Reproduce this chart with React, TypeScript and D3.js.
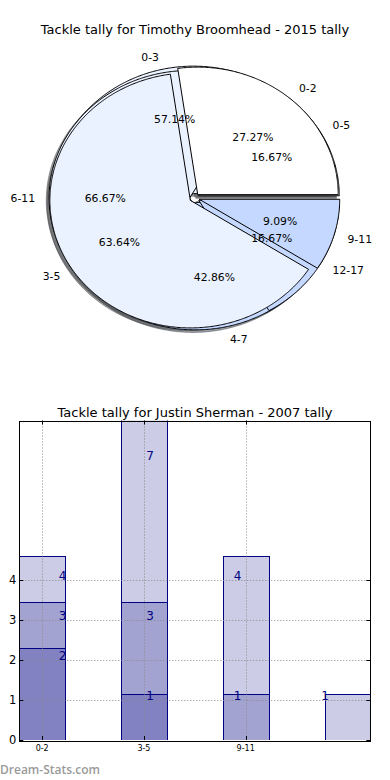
import React from 'react';
import * as d3 from 'd3';

// ---------- Pie data ----------
const pieTitle = 'Tackle tally for Timothy Broomhead - 2015 tally';
const pieALabels = ['0-2', '3-5', '9-11'];
const pieAValues = [3, 7, 1];
const pieBLabels = ['0-3', '4-7'];
const pieBValues = [4, 3];
const pieCLabels = ['0-5', '6-11', '12-17'];
const pieCValues = [1, 4, 1];
const pieAColors = ['#ffffff', '#ebf2ff', '#c5d8ff'];
const pieBColors = ['#ebf2ff', '#c5d8ff'];
const pieCColors = ['#ffffff', '#ebf2ff', '#c5d8ff'];

// ---------- Bar data ----------
const barTitle = 'Tackle tally for Justin Sherman - 2007 tally';
const barCategories = ['0-2', '3-5', '9-11', ''];
const barSeriesA = [4, 7, 4, 1];
const barSeriesB = [3, 3, 1, null];
const barSeriesC = [2, 1, null, null];
const yTickValues = [0, 1, 2, 3, 4];
const xTickLabels = ['0-2', '3-5', '9-11'];

// ---------- layout constants ----------
const W = 390;
const H = 780;
const FONT = 'DejaVu Sans, sans-serif';

const PIE_CX = 194.5;
const PIE_CY = 198;
const PIE_RX = 140.5;
const PIE_RY = 127.5;
const EXPLODE = 0.035;
const SHADOW_OFF = -0.02;

const BAR_LEFT = 19.3;
const BAR_RIGHT = 370.3;
const BAR_TOP = 420.5;
const BAR_BOTTOM = 740;
const BAR_WIDTH = 0.45;
const BAR_HEIGHT_FACTOR = 1.15;
const LABEL_X0 = 0.2;
const LABEL_X_STEP = 0.86;

const px = d3.scaleLinear().domain([-1, 1]).range([PIE_CX - PIE_RX, PIE_CX + PIE_RX]);
const py = d3.scaleLinear().domain([-1, 1]).range([PIE_CY + PIE_RY, PIE_CY - PIE_RY]);

const snap = (v: number) => Math.round(v) + 0.5;

function wedgePath(ox: number, oy: number, a0: number, a1: number) {
  const n = Math.max(2, Math.ceil((a1 - a0) / (Math.PI / 360)));
  const pts: [number, number][] = [[px(ox), py(oy)]];
  for (let k = 0; k <= n; k++) {
    const t = a0 + ((a1 - a0) * k) / n;
    pts.push([px(ox + Math.cos(t)), py(oy + Math.sin(t))]);
  }
  return (d3.line()(pts) as string) + 'Z';
}

function shadowColor(c: string) {
  const r = d3.rgb(c);
  return `rgba(${Math.round(r.r * 0.3)},${Math.round(r.g * 0.3)},${Math.round(r.b * 0.3)},0.5)`;
}

type PieSpec = { labels: string[]; values: number[]; colors: string[] };

function layoutPie(spec: PieSpec) {
  const arcs = d3
    .pie<number>()
    .sort(null)
    .startAngle(0)
    .endAngle(Math.PI * 2)(spec.values);
  const total = d3.sum(spec.values);
  return arcs.map((a, i) => {
    const m = (a.startAngle + a.endAngle) / 2;
    const ox = EXPLODE * Math.cos(m);
    const oy = EXPLODE * Math.sin(m);
    return {
      a0: a.startAngle,
      a1: a.endAngle,
      ox,
      oy,
      color: spec.colors[i],
      label: spec.labels[i],
      pct: ((spec.values[i] / total) * 100).toFixed(2) + '%',
      lx: ox + 1.1 * Math.cos(m),
      ly: oy + 1.1 * Math.sin(m),
      tx: ox + 0.6 * Math.cos(m),
      ty: oy + 0.6 * Math.sin(m),
    };
  });
}

export default function App() {
  // drawing order: B (bottom), C, A (top)
  const pies = [
    layoutPie({ labels: pieBLabels, values: pieBValues, colors: pieBColors }),
    layoutPie({ labels: pieCLabels, values: pieCValues, colors: pieCColors }),
    layoutPie({ labels: pieALabels, values: pieAValues, colors: pieAColors }),
  ];
  const allWedges = pies.flat();

  const x = d3.scaleLinear().domain([-BAR_WIDTH / 2, 3 + BAR_WIDTH / 2]).range([BAR_LEFT, BAR_RIGHT]);
  const y = d3.scaleLinear().domain([0, 8]).range([BAR_BOTTOM, BAR_TOP]);

  const series = [barSeriesA, barSeriesB, barSeriesC];
  const bars: { i: number; v: number }[] = [];
  series.forEach((s) => s.forEach((v, i) => { if (v != null) bars.push({ i, v }); }));

  const navy = '#000080';

  return (
    <svg
      width={W}
      height={H}
      style={{ position: 'absolute', left: 0, top: 0, background: '#fff' }}
      fontFamily={FONT}
    >
      <rect x={0} y={0} width={W} height={H} fill="#fff" />
      {/* Pie chart */}
      <text x={195} y={34} textAnchor="middle" fontSize={13} fill="#000">{pieTitle}</text>
      <g>
        {allWedges.map((w, k) => (
          <path
            key={'s' + k}
            d={wedgePath(w.ox + SHADOW_OFF, w.oy + SHADOW_OFF, w.a0, w.a1)}
            fill={shadowColor(w.color)}
            stroke={shadowColor(w.color)}
            strokeWidth={1}
          />
        ))}
        {allWedges.map((w, k) => (
          <path
            key={'w' + k}
            d={wedgePath(w.ox, w.oy, w.a0, w.a1)}
            fill={w.color}
            stroke="#000"
            strokeWidth={1}
            strokeLinejoin="miter"
          />
        ))}
        {allWedges.map((w, k) => (
          <text
            key={'l' + k}
            x={px(w.lx)}
            y={py(w.ly)}
            dy="0.35em"
            textAnchor={w.lx > 0 ? 'start' : 'end'}
            fontSize={10.8}
            fill="#000"
          >
            {w.label}
          </text>
        ))}
        {allWedges.map((w, k) => (
          <text
            key={'p' + k}
            x={px(w.tx)}
            y={py(w.ty)}
            dy="0.35em"
            textAnchor="middle"
            fontSize={10.8}
            fill="#000"
          >
            {w.pct}
          </text>
        ))}
      </g>

      {/* Bar chart */}
      <text x={195} y={417} textAnchor="middle" fontSize={13} fill="#000">{barTitle}</text>
      <defs>
        <clipPath id="barclip">
          <rect x={BAR_LEFT} y={BAR_TOP} width={BAR_RIGHT - BAR_LEFT} height={BAR_BOTTOM - BAR_TOP} />
        </clipPath>
      </defs>
      <g clipPath="url(#barclip)">
        {bars.map((b, k) => {
          const left = snap(x(b.i - BAR_WIDTH / 2));
          const right = snap(x(b.i + BAR_WIDTH / 2));
          const top = snap(y(b.v * BAR_HEIGHT_FACTOR));
          const bottom = snap(y(0));
          return (
            <rect
              key={'b' + k}
              x={left}
              y={top}
              width={right - left}
              height={bottom - top}
              fill={navy}
              fillOpacity={0.2}
              stroke={navy}
              strokeWidth={1}
            />
          );
        })}
        {/* grid */}
        {yTickValues.map((t) => (
          <line key={'gy' + t} x1={BAR_LEFT} x2={BAR_RIGHT} y1={snap(y(t))} y2={snap(y(t))}
            stroke="#888" strokeWidth={1} strokeDasharray="1,2" />
        ))}
        {xTickLabels.map((_, i) => (
          <line key={'gx' + i} x1={snap(x(i))} x2={snap(x(i))} y1={BAR_TOP} y2={BAR_BOTTOM}
            stroke="#888" strokeWidth={1} strokeDasharray="1,2" />
        ))}
      </g>
      {bars.map((b, k) => (
        <text
          key={'bl' + k}
          x={x(LABEL_X0 + b.i * LABEL_X_STEP)}
          y={y(b.v)}
          textAnchor="middle"
          fontSize={12}
          fill={navy}
        >
          {b.v}
        </text>
      ))}
      {/* ticks */}
      {yTickValues.map((t) => (
        <g key={'ty' + t}>
          <line x1={BAR_LEFT} x2={BAR_LEFT + 4} y1={snap(y(t))} y2={snap(y(t))} stroke="#000" />
          <line x1={BAR_RIGHT - 4} x2={BAR_RIGHT} y1={snap(y(t))} y2={snap(y(t))} stroke="#000" />
          <text x={BAR_LEFT - 3} y={y(t)} dy="0.35em" textAnchor="end" fontSize={11.5} fill="#000">{t}</text>
        </g>
      ))}
      {xTickLabels.map((lab, i) => (
        <g key={'tx' + i}>
          <line x1={snap(x(i))} x2={snap(x(i))} y1={BAR_BOTTOM} y2={BAR_BOTTOM - 4} stroke="#000" />
          <line x1={snap(x(i))} x2={snap(x(i))} y1={BAR_TOP} y2={BAR_TOP + 4} stroke="#000" />
          <text x={x(i)} y={751} textAnchor="middle" fontSize={8} fill="#000">{lab}</text>
        </g>
      ))}
      <rect x={snap(BAR_LEFT)} y={snap(BAR_TOP)} width={Math.round(BAR_RIGHT - BAR_LEFT)} height={Math.round(BAR_BOTTOM - BAR_TOP)} fill="none" stroke="#000" strokeWidth={1} />
      <text x={0} y={774} fontFamily="Open Sans, sans-serif" fontWeight={600} fontSize={12} fill="#9a9a9a">Dream-Stats.com</text>
    </svg>
  );
}
